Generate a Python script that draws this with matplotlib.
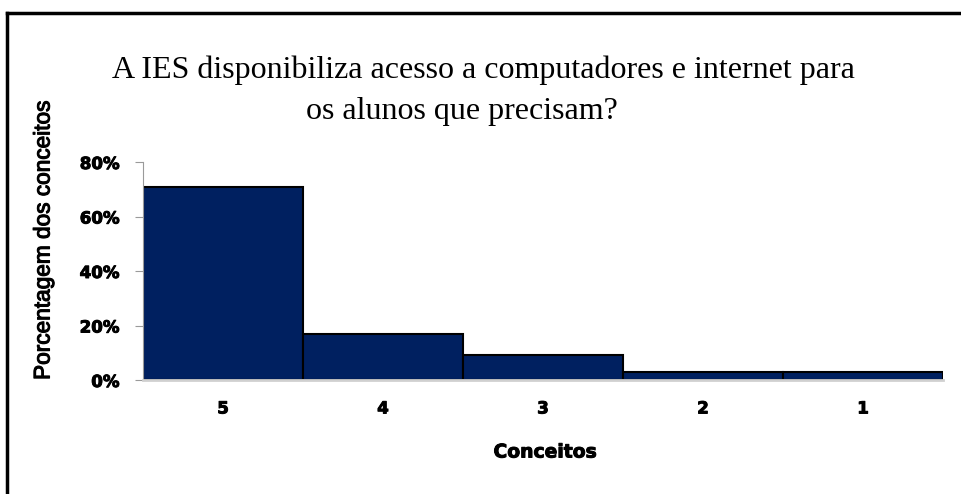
import matplotlib
matplotlib.use("Agg")
import matplotlib.pyplot as plt
import matplotlib.patheffects as pe
from matplotlib.ticker import FuncFormatter

categories = ["5", "4", "3", "2", "1"]
values = [71, 17, 9, 3, 3]
yticks = [0, 20, 40, 60, 80]

title_line1 = "A IES disponibiliza acesso a computadores e internet para"
title_line2 = "os alunos que precisam?"
ylabel = "Porcentagem dos conceitos"
xlabel = "Conceitos"

W, H = 961, 494
fig = plt.figure(figsize=(W / 100, H / 100), dpi=100)
ax = fig.add_axes([143 / W, 1 - 380 / H, 800 / W, (380 - 162) / H])

x = list(range(len(categories)))
ax.bar(x, values, width=1.0, color="#002060", edgecolor="black", linewidth=1.5)
ax.set_xlim(-0.5, len(categories) - 0.5)
ax.set_ylim(0, 80)
ax.set_yticks(yticks)
ax.yaxis.set_major_formatter(FuncFormatter(lambda v, p: f"{int(v)}%"))
ax.set_xticks(x)
ax.set_xticklabels(categories)

for s in ["top", "right"]:
    ax.spines[s].set_visible(False)
ax.spines["left"].set_color("#9a9a9a")
ax.spines["bottom"].set_color("#d0d0d0")
ax.spines["bottom"].set_linewidth(2)
ax.tick_params(axis="y", length=6, color="#9a9a9a", pad=11)
ax.tick_params(axis="x", length=0, pad=14)
thick = [pe.withStroke(linewidth=0.7, foreground="black")]
for lab in ax.get_yticklabels() + ax.get_xticklabels():
    lab.set_fontfamily("DejaVu Sans")
    lab.set_fontweight("bold")
    lab.set_fontsize(12)
    lab.set_path_effects(thick)

fig.text(483 / W, 1 - 70 / H, title_line1, ha="center", va="center",
         fontsize=23, family="Liberation Serif")
fig.text(462 / W, 1 - 112 / H, title_line2, ha="center", va="center",
         fontsize=23, family="Liberation Serif")
fig.text(43 / W, 1 - 240 / H, ylabel, rotation=90, ha="center", va="center",
         fontsize=16.3, family="Liberation Sans",
         path_effects=[pe.withStroke(linewidth=0.8, foreground="black")])
fig.text(545 / W, 1 - 452 / H, xlabel, ha="center", va="center",
         fontsize=13.5, family="DejaVu Sans", fontweight="bold",
         path_effects=thick)

# outer frame (only top and left visible in the reference)
fig.add_artist(plt.Line2D([7 / W, 7 / W], [0, 1 - 13 / H], transform=fig.transFigure,
                          color="black", linewidth=2.5))
fig.add_artist(plt.Line2D([7 / W, 1], [1 - 13 / H, 1 - 13 / H], transform=fig.transFigure,
                          color="black", linewidth=2.5))

fig.savefig("out.png", dpi=100)
